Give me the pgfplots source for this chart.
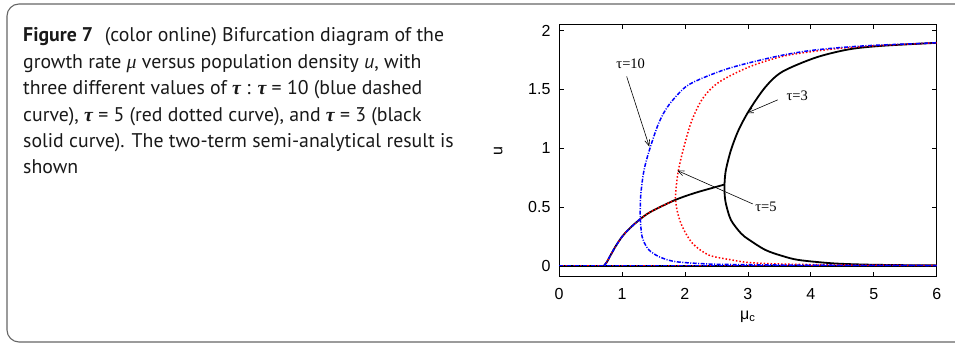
\documentclass[border=0pt]{standalone}
\usepackage{fontspec}
\usepackage{pgfplots}
\pgfplotsset{compat=1.18}
\usetikzlibrary{arrows.meta}
\setmainfont{PT Sans}
\newfontfamily\gr{Liberation Serif}
\newfontfamily\helv{Liberation Sans}
\newcommand{\tauc}{{\gr\bfseries\itshape τ}}

\begin{document}
\begin{tikzpicture}[x=1pt,y=1pt]
\path[use as bounding box] (0,0) rectangle (955,344);
\begin{scope}
  \clip (0,0) rectangle (955,344);
  \draw[black!60, line width=1.1pt, rounded corners=12pt] (7,2) rectangle (985,340);
\end{scope}

% caption, one node per line
\begin{scope}[every node/.style={anchor=base west, inner sep=0pt, font=\fontsize{19.8}{22}\selectfont, text=black!90}]
  \node at (23,302.3) {\textbf{Figure 7}\hspace{0.6em}(color online) Bifurcation diagram of the};
  \node at (23,275.8) {growth rate {\gr\itshape μ} versus population density \textit{u}, with};
  \node at (23,249.4) {three different values of \tauc\ : \tauc\ = 10 (blue dashed};
  \node at (23,222.9) {curve), \tauc\ = 5 (red dotted curve), and \tauc\ = 3 (black};
  \node at (23,196.5) {solid curve). The two-term semi-analytical result is};
  \node at (23,170.0) {shown};
\end{scope}

\begin{axis}[
  at={(559pt,67.3pt)}, anchor=south west,
  width=377.7pt, height=252.2pt, scale only axis,
  xmin=0, xmax=6, ymin=-0.094, ymax=2.051,
  xtick={0,1,...,6}, ytick={0,0.5,1,1.5,2},
  tick align=inside, tick pos=both,
  major tick length=5pt,
  axis line style={line width=0.9pt},
  every tick/.style={black, line width=0.7pt},
  /pgf/number format/assume math mode=true,
  tick label style={font=\helv\fontsize{16}{17}\selectfont},
  xticklabel style={yshift=-8pt},
  yticklabel style={xshift=-5pt},
  xlabel={μ\textsubscript{c}}, ylabel={u},
  label style={font=\helv\fontsize{16}{17}\selectfont},
  xlabel style={at={(axis description cs:0.5,0)}, anchor=center, yshift=-40pt},
  ylabel style={at={(axis description cs:0,0.5)}, anchor=center, yshift=60.7pt},
  clip=true,
]
% tau = 3 (black solid)
\addplot[black, line width=1.8pt] coordinates {(0,0) (6,0)};
\addplot[black, line width=1.8pt, smooth, tension=0.5] coordinates {
  (0.715,0) (0.76,0.03) (0.80,0.07) (0.90,0.165) (1.0,0.245) (1.1,0.305)
  (1.2,0.355) (1.3,0.40) (1.4,0.44) (1.5,0.47) (1.65,0.51) (1.83,0.555)
  (2.0,0.59) (2.2,0.625) (2.43,0.66) (2.63,0.69)};
\addplot[black, line width=1.8pt, smooth, tension=0.5] coordinates {
  (6,0.002) (5.5,0.004) (4.87,0.009) (4.34,0.02) (3.81,0.048) (3.55,0.082)
  (3.28,0.133) (3.02,0.22) (2.89,0.275) (2.73,0.39) (2.65,0.53) (2.63,0.62)
  (2.63,0.70) (2.65,0.81) (2.73,0.98) (2.85,1.15) (3.02,1.32) (3.28,1.52)
  (3.55,1.65) (4.08,1.77) (4.61,1.84) (5.14,1.87) (6,1.895)};
% tau = 5 (red dotted)
\addplot[red, line width=1.5pt, dotted] coordinates {(0,0) (6,0)};
\addplot[red, line width=1.5pt, dotted, smooth, tension=0.5] coordinates {
  (0.715,0) (0.76,0.03) (0.80,0.07) (0.90,0.165) (1.0,0.245) (1.1,0.305)
  (1.2,0.355) (1.3,0.40) (1.4,0.44) (1.5,0.47) (1.65,0.51) (1.83,0.555)};
\addplot[red, line width=1.5pt, dotted, smooth, tension=0.5] coordinates {
  (6,0.002) (4.5,0.006) (3.5,0.014) (3.02,0.026) (2.75,0.048) (2.38,0.09)
  (2.12,0.19) (1.96,0.33) (1.88,0.46) (1.85,0.58) (1.87,0.71) (1.90,0.82)
  (1.97,0.98) (2.10,1.22) (2.28,1.42) (2.54,1.56) (3.02,1.69) (3.55,1.78)
  (4.08,1.825) (4.6,1.855) (5.2,1.875) (6,1.895)};
% tau = 10 (blue dashed)
\addplot[blue, line width=1.5pt, dash pattern=on 4pt off 1.5pt on 1pt off 1.5pt] coordinates {(0,0) (6,0)};
\addplot[blue, line width=1.5pt, dash pattern=on 4pt off 1.5pt on 1pt off 1.5pt, smooth, tension=0.5] coordinates {
  (0.715,0) (0.76,0.03) (0.80,0.07) (0.90,0.165) (1.0,0.245) (1.1,0.305)
  (1.2,0.355) (1.295,0.40)};
\addplot[blue, line width=1.5pt, dash pattern=on 4pt off 1.5pt on 1pt off 1.5pt, smooth, tension=0.5] coordinates {
  (6,0.001) (4,0.004) (3,0.008) (2.38,0.014) (1.85,0.034) (1.59,0.076)
  (1.43,0.133) (1.35,0.20) (1.32,0.246) (1.30,0.33) (1.29,0.445) (1.30,0.61)
  (1.35,0.81) (1.44,0.99) (1.59,1.22) (1.75,1.37) (2.01,1.52) (2.28,1.595)
  (2.65,1.67) (3.02,1.725) (3.55,1.79) (4.08,1.835) (4.87,1.87) (6,1.895)};

% annotations
\begin{scope}[every node/.style={font=\gr\fontsize{14.5}{15}\selectfont}]
  \node at (axis cs:1.139,1.714) {τ=10};
  \node at (axis cs:3.785,1.447) {τ=3};
  \node at (axis cs:3.288,0.502) {τ=5};
\end{scope}
\draw[-{Straight Barb[length=6pt,width=5pt]}, line width=0.6pt] (axis cs:1.075,1.609) -- (axis cs:1.434,1.013);
\draw[-{Straight Barb[length=6pt,width=5pt]}, line width=0.6pt] (axis cs:3.474,1.410) -- (axis cs:2.982,1.297);
\draw[-{Straight Barb[length=6pt,width=5pt]}, line width=0.6pt] (axis cs:3.077,0.525) -- (axis cs:1.879,0.809);
\end{axis}
\end{tikzpicture}
\end{document}
